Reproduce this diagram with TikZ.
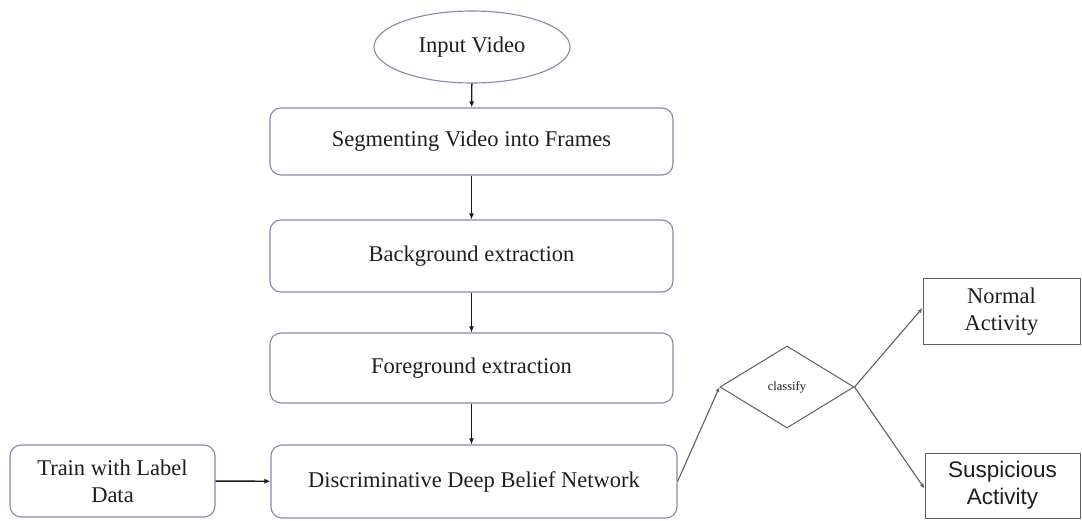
\documentclass[tikz,border=0pt]{standalone}
\usepackage{fontspec}
\setmainfont{Liberation Serif}
\newfontfamily\arialfont{Liberation Sans}
\usetikzlibrary{shapes.geometric,arrows.meta}
\definecolor{boxline}{RGB}{135,135,170}
\definecolor{txt}{RGB}{30,30,30}
\definecolor{conn}{RGB}{25,25,25}
\definecolor{graylinec}{RGB}{95,95,95}
\begin{document}
\begin{tikzpicture}[x=1pt,y=-1pt,
  every node/.style={text=txt,font=\fontsize{22.5}{27}\selectfont,align=center,inner sep=0pt},
  roundbox/.style={draw=boxline,line width=1.1pt,rounded corners=11pt,rectangle},
  plainbox/.style={draw=graylinec,line width=1pt,rectangle},
  flow/.style={draw=conn,line width=1.4pt,-{Latex[length=6pt,width=5pt]}},
  thin/.style={draw=graylinec,line width=1.1pt,-{Latex[length=5pt,width=4pt]}}]
\useasboundingbox (0,0) rectangle (1082,521);
\node[ellipse,draw=boxline,line width=1.1pt,minimum width=196pt,minimum height=72pt] (in) at (472,47) {Input Video};
\node[roundbox,minimum width=403pt,minimum height=67pt] (seg) at (471.5,141.5) {Segmenting Video into Frames};
\node[roundbox,minimum width=403pt,minimum height=72pt] (bg) at (471.5,256) {Background extraction};
\node[roundbox,minimum width=403pt,minimum height=70pt] (fg) at (471.5,368) {Foreground extraction};
\node[roundbox,minimum width=406pt,minimum height=73pt] (dbn) at (474,481.5) {Discriminative Deep Belief Network};
\node[roundbox,minimum width=205pt,minimum height=72pt] (train) at (112.5,481) {Train with Label\\Data};
\node[diamond,draw=graylinec,line width=1pt,minimum width=134pt,minimum height=82pt,font=\fontsize{12.5}{14}\selectfont] (cls) at (787,387) {classify};
\node[plainbox,minimum width=157pt,minimum height=66pt] (norm) at (1001.5,312) {Normal\\Activity};
\node[plainbox,minimum width=155pt,minimum height=65pt,font=\arialfont\fontsize{22.5}{27}\selectfont] (susp) at (1002.5,485.5) {Suspicious\\Activity};
\draw[flow] (in) -- (seg);
\draw[flow] (seg) -- (bg);
\draw[flow] (bg) -- (fg);
\draw[flow] (fg.south) -- (fg.south |- dbn.north);
\draw[flow] (train) -- (dbn);
\draw[thin] (dbn.east) -- (cls.west);
\draw[thin] (cls.east) -- ([yshift=4pt]norm.west);
\draw[thin] (cls.east) -- ([yshift=-3pt]susp.west);
\end{tikzpicture}
\end{document}
